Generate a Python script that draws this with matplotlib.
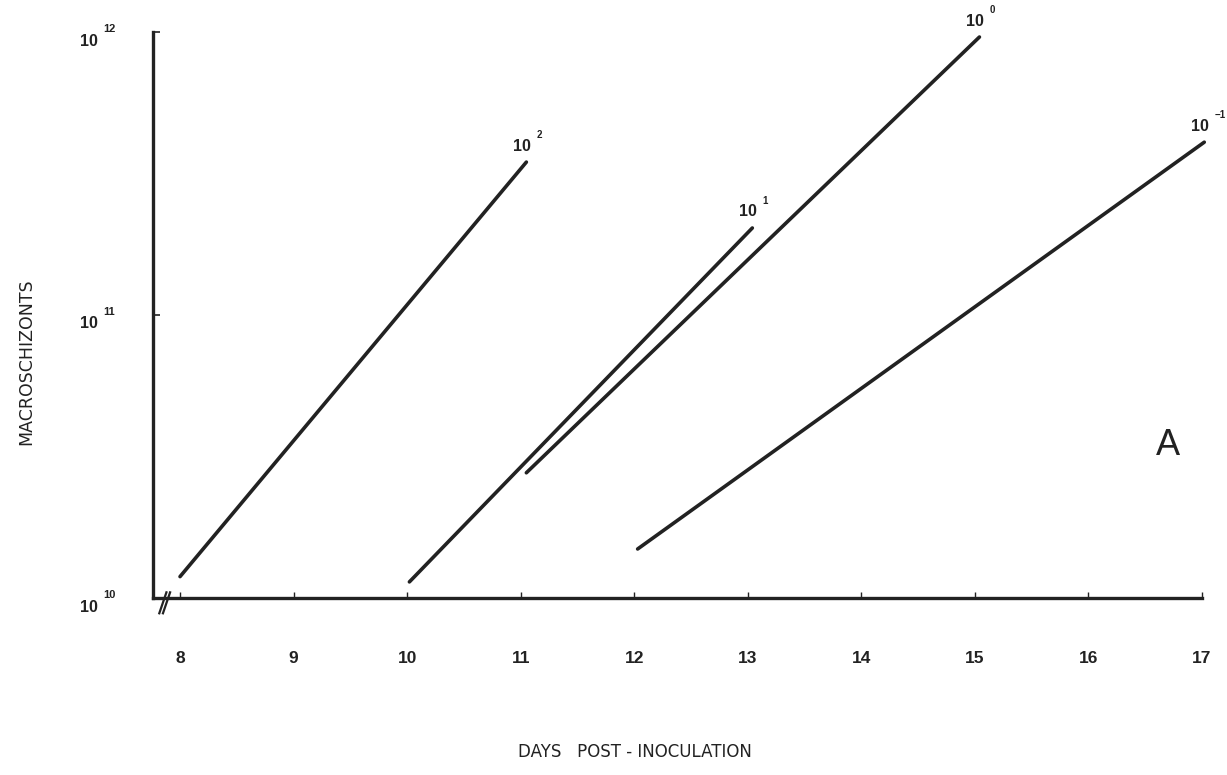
"""
Macroschizont growth curves, days post-inoculation
"""

import matplotlib.pyplot as plt

plt.rcParams['font.family'] = ['Liberation Sans', 'DejaVu Sans']

# DATA

# inoculum dilution (exponent of 10) for each line
dilution_exp = ['2', '1', '0', '\u22121']
start_day = [8.0, 10.02, 11.05, 12.03]
start_count = [1.19e10, 1.14e10, 2.77e10, 1.49e10]
end_day = [11.05, 13.04, 15.04, 17.02]
end_count = [3.47e11, 2.03e11, 9.6e11, 4.08e11]

day_ticks = [8, 9, 10, 11, 12, 13, 14, 15, 16, 17]
count_ticks = [1e10, 1e11, 1e12]
count_exp = ['10', '11', '12']

# PLOT

fig = plt.figure(figsize=(12.27, 7.75), dpi=100)
ax = fig.add_axes([153 / 1227, 1 - 598 / 775, 1049 / 1227, 566 / 775])

ax.set_yscale('log')
ax.set_xlim(7.762, 17.0)
ax.set_ylim(1e10, 1e12)

for i in range(len(dilution_exp)):
    ax.plot([start_day[i], end_day[i]], [start_count[i], end_count[i]],
            color='#222222', lw=2.6, solid_capstyle='round', clip_on=False)
    ax.annotate('10', xy=(end_day[i], end_count[i]), xytext=(-4, 16),
                textcoords='offset pixels', ha='center', va='center',
                fontsize=11.5, fontweight='bold', color='#222222', annotation_clip=False)
    ax.annotate(dilution_exp[i], xy=(end_day[i], end_count[i]), xytext=(10, 27),
                textcoords='offset pixels', ha='left', va='center',
                fontsize=7, fontweight='bold', color='#222222', annotation_clip=False)

# axes
for side in ['top', 'right']:
    ax.spines[side].set_visible(False)
for side in ['left', 'bottom']:
    ax.spines[side].set_linewidth(2.4)
    ax.spines[side].set_color('#222222')

ax.set_xticks(day_ticks)
ax.set_xticklabels([str(d) for d in day_ticks], fontsize=12.5, fontweight='bold', color='#222222')
ax.tick_params(axis='x', direction='in', length=4, width=1, pad=38, color='#222222')

ax.minorticks_off()
ax.set_yticks(count_ticks)
ax.set_yticklabels([])
ax.tick_params(axis='y', direction='in', length=5, width=1.2, color='#222222')

for val, ex in zip(count_ticks, count_exp):
    ax.annotate('10', xy=(0, val), xycoords=('axes fraction', 'data'), xytext=(-55, -9),
                textcoords='offset pixels', ha='right', va='center',
                fontsize=11.5, fontweight='bold', color='#222222', annotation_clip=False)
    ax.annotate(ex, xy=(0, val), xycoords=('axes fraction', 'data'), xytext=(-50, 3),
                textcoords='offset pixels', ha='left', va='center',
                fontsize=8, fontweight='bold', color='#222222', annotation_clip=False)

# axis break marks
for dx in [0.0, 0.0035]:
    ax.plot([0.0060 + dx, 0.0128 + dx], [-0.027, 0.010], transform=ax.transAxes,
            color='#222222', lw=1.6, clip_on=False)

fig.text(26 / 1227, 1 - 362 / 775, 'MACROSCHIZONTS', rotation=90, ha='center', va='center',
         fontsize=12.5, family=['DejaVu Sans'], color='#222222')
fig.text(635 / 1227, 1 - 752 / 775, 'DAYS   POST - INOCULATION', ha='center', va='center',
         fontsize=12, family=['DejaVu Sans'], color='#222222')
fig.text(1168 / 1227, 1 - 446 / 775, 'A', ha='center', va='center', fontsize=26, color='#222222')

fig.savefig('out.png', dpi=100)
